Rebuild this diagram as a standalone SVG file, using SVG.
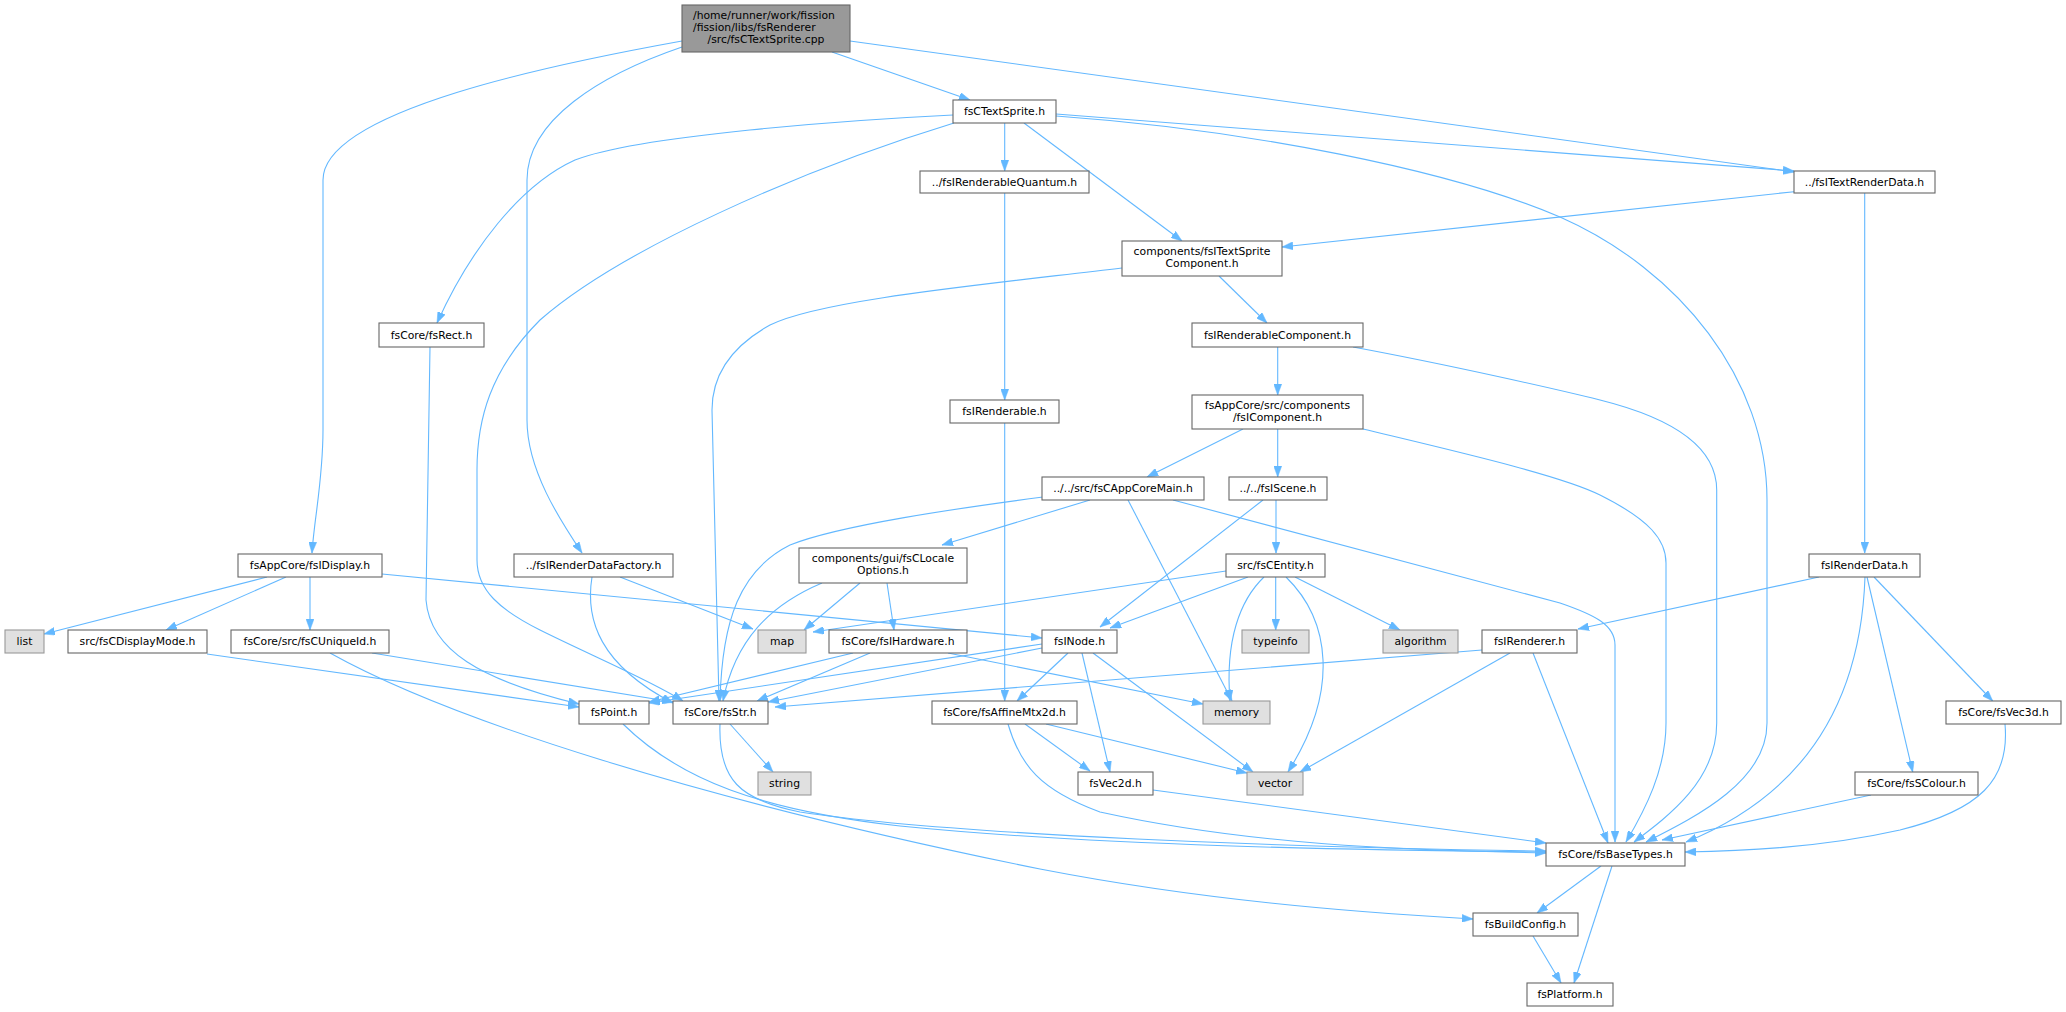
<svg xmlns="http://www.w3.org/2000/svg" width="2066" height="1012" viewBox="0 0 2066 1012">
<style>
text{font-family:"DejaVu Sans",sans-serif;font-size:10.8px;text-anchor:middle;fill:#000}
.n rect{fill:#fff;stroke:#666;stroke-width:1.1}
.x rect{fill:#e0e0e0;stroke:#999;stroke-width:1.1}
.r rect{fill:#999;stroke:#666;stroke-width:1.1}
#edges path{fill:none;stroke:#63b8ff;stroke-width:1.1;marker-end:url(#ah)}
</style>
<defs>
<marker id="ah" markerUnits="userSpaceOnUse" viewBox="0 0 11 8" markerWidth="11" markerHeight="8" refX="11" refY="4" orient="auto">
<path d="M0,0 L11,4 L0,8 z" fill="#63b8ff" stroke="#63b8ff" stroke-width="0.5"/>
</marker>
</defs>
<rect width="2066" height="1012" fill="#fff"/>
<g id="edges">
<path d="M832,52 L970,100"/>
<path d="M850,41 L1794,172"/>
<path d="M682,41 C560,63 323,110 323,180 L323,430 C323,480 314,520 312,553"/>
<path d="M682,47 C600,75 527,120 527,180 L527,420 C527,470 560,520 582,553"/>
<path d="M1004.7,123 L1004.7,171"/>
<path d="M953,115 C850,120 640,135 575,160 C520,185 470,250 437,323"/>
<path d="M954,123 C800,170 620,250 540,320 C490,370 477,420 477,470 L477,560 C477,590 500,610 540,630 C590,655 650,680 683,701"/>
<path d="M1024,123 L1182,241"/>
<path d="M1056,114 L1794,171"/>
<path d="M1056,116 C1250,130 1450,170 1560,217 C1680,270 1767,380 1767,500 L1767,723 C1767,780 1700,815 1646,842"/>
<path d="M1794,191.7 L1282,247"/>
<path d="M1864.7,193 L1864.7,553"/>
<path d="M1122,268 C980,285 820,300 770,325 C725,350 712,380 712,410 L719,701"/>
<path d="M1004.7,193 L1004.7,400"/>
<path d="M1004.7,423 L1004.7,701"/>
<path d="M1219,276 L1267,323"/>
<path d="M1277.7,347 L1277.7,395"/>
<path d="M1353,347 C1450,365 1560,390 1600,400 C1680,420 1716.7,450 1716.7,490 L1716.7,723 C1716.7,780 1670,815 1634,842"/>
<path d="M1243,429 L1147,477"/>
<path d="M1277.7,429 L1277.7,477"/>
<path d="M1363,429 C1450,450 1560,475 1600,495 C1650,520 1666,540 1666,563 L1666,723 C1666,770 1645,810 1626,842"/>
<path d="M1090,500 L942,545"/>
<path d="M1043,497 C960,508 840,525 790,545 C740,570 722,620 720,701"/>
<path d="M1128,500 L1232,701"/>
<path d="M1173,500 L1560,603 C1595,615 1615,625 1615,645 L1615,842"/>
<path d="M1263,500 L1100,627"/>
<path d="M1276,500 L1276,553"/>
<path d="M1226,571 L813,632"/>
<path d="M1248,577 L1110,628"/>
<path d="M1264,577 C1240,600 1225,640 1230,701"/>
<path d="M1275.7,577 L1275.7,630"/>
<path d="M1286,577 C1330,620 1340,690 1288,772"/>
<path d="M1295,577 L1400,630"/>
<path d="M1819,577 L1578,629"/>
<path d="M1867,577 L1912.7,772"/>
<path d="M1874,577 L1992.7,701"/>
<path d="M1865,577 C1860,720 1790,800 1686,842"/>
<path d="M1871,795 L1662,840"/>
<path d="M2005,724 C2010,780 1980,810 1900,830 C1820,848 1740,851 1685,852"/>
<path d="M1510,653 L1300,772"/>
<path d="M1533,653 L1608,843"/>
<path d="M1482,650 L775,707"/>
<path d="M1082,653 L1110,772"/>
<path d="M1093,653 L1253,772"/>
<path d="M1068,653 L1017,701"/>
<path d="M1042,648 L768,702"/>
<path d="M1042,644 L649,703"/>
<path d="M382,574 L1042,638"/>
<path d="M267,577 L44,634"/>
<path d="M286,577 L166,630"/>
<path d="M310,577 L310,630"/>
<path d="M207,654 L579,707"/>
<path d="M430,347 L426,600 C430,650 480,680 579,704"/>
<path d="M372,653 L673,702"/>
<path d="M330,653 C450,720 700,800 1040,869 C1200,900 1350,912 1473,919"/>
<path d="M620,577 L753,629"/>
<path d="M592,577 C585,620 600,665 673,703"/>
<path d="M860,583 L804,630"/>
<path d="M887,583 L894,630"/>
<path d="M822,583 C770,605 735,640 723,701"/>
<path d="M853,653 L649,702"/>
<path d="M870,653 L757,701"/>
<path d="M948,653 L1203,704"/>
<path d="M623,724 C680,780 760,810 900,826 C1100,846 1350,850 1546,852"/>
<path d="M720,724 C718,780 740,800 800,812 C950,835 1300,848 1546,851"/>
<path d="M730,724 L773,772"/>
<path d="M1025,724 L1090,771"/>
<path d="M1046,724 L1247,773"/>
<path d="M1008,724 C1020,765 1040,790 1100,812 C1250,845 1400,850 1546,853"/>
<path d="M1153,790 L1546,843"/>
<path d="M1601,866 L1537,913"/>
<path d="M1612,866 L1574,983"/>
<path d="M1533,936 L1561,983"/>
</g>
<g id="n0" class="r"><rect x="682" y="5" width="168" height="47"/><text x="693" y="18.5" style="text-anchor:start">/home/runner/work/fission</text><text x="693" y="30.5" style="text-anchor:start">/fission/libs/fsRenderer</text><text x="766" y="42.5">/src/fsCTextSprite.cpp</text></g>
<g id="n1" class="n"><rect x="953" y="100" width="103" height="23"/><text x="1004.5" y="115.3">fsCTextSprite.h</text></g>
<g id="n2" class="n"><rect x="920" y="171" width="169" height="22"/><text x="1004.5" y="185.8">../fsIRenderableQuantum.h</text></g>
<g id="n3" class="n"><rect x="379" y="323" width="105" height="24"/><text x="431.5" y="338.8">fsCore/fsRect.h</text></g>
<g id="n4" class="n"><rect x="950" y="400" width="109" height="23"/><text x="1004.5" y="415.3">fsIRenderable.h</text></g>
<g id="n5" class="n"><rect x="1794" y="171" width="141" height="22"/><text x="1864.5" y="185.8">../fsITextRenderData.h</text></g>
<g id="n6" class="n"><rect x="1122" y="241" width="160" height="35"/><text x="1202" y="254.8">components/fsITextSprite</text><text x="1202" y="266.8">Component.h</text></g>
<g id="n7" class="n"><rect x="1192" y="323" width="171" height="24"/><text x="1277.5" y="338.8">fsIRenderableComponent.h</text></g>
<g id="n8" class="n"><rect x="1192" y="395" width="171" height="34"/><text x="1277.5" y="408.5">fsAppCore/src/components</text><text x="1277.5" y="420.5">/fsIComponent.h</text></g>
<g id="n9" class="n"><rect x="1042" y="477" width="162" height="23"/><text x="1123" y="492.3">../../src/fsCAppCoreMain.h</text></g>
<g id="n10" class="n"><rect x="1229" y="477" width="98" height="23"/><text x="1278" y="492.3">../../fsIScene.h</text></g>
<g id="n11" class="n"><rect x="238" y="554" width="144" height="23"/><text x="310" y="569.3">fsAppCore/fsIDisplay.h</text></g>
<g id="n12" class="n"><rect x="514" y="554" width="159" height="23"/><text x="593.5" y="569.3">../fsIRenderDataFactory.h</text></g>
<g id="n13" class="n"><rect x="799" y="548" width="168" height="35"/><text x="883" y="561.5">components/gui/fsCLocale</text><text x="883" y="573.5">Options.h</text></g>
<g id="n14" class="n"><rect x="1226" y="554" width="99" height="23"/><text x="1275.5" y="569.3">src/fsCEntity.h</text></g>
<g id="n15" class="n"><rect x="1809" y="554" width="111" height="23"/><text x="1864.5" y="569.3">fsIRenderData.h</text></g>
<g id="n16" class="x"><rect x="5" y="630" width="39" height="23"/><text x="24.5" y="645.3">list</text></g>
<g id="n17" class="n"><rect x="68" y="630" width="139" height="23"/><text x="137.5" y="645.3">src/fsCDisplayMode.h</text></g>
<g id="n18" class="n"><rect x="231" y="630" width="158" height="23"/><text x="310" y="645.3">fsCore/src/fsCUniqueId.h</text></g>
<g id="n19" class="x"><rect x="758" y="630" width="48" height="23"/><text x="782" y="645.3">map</text></g>
<g id="n20" class="n"><rect x="829" y="630" width="138" height="23"/><text x="898" y="645.3">fsCore/fsIHardware.h</text></g>
<g id="n21" class="n"><rect x="1042" y="630" width="75" height="23"/><text x="1079.5" y="645.3">fsINode.h</text></g>
<g id="n22" class="x"><rect x="1242" y="630" width="67" height="23"/><text x="1275.5" y="645.3">typeinfo</text></g>
<g id="n23" class="x"><rect x="1383" y="630" width="75" height="23"/><text x="1420.5" y="645.3">algorithm</text></g>
<g id="n24" class="n"><rect x="1482" y="630" width="95" height="23"/><text x="1529.5" y="645.3">fsIRenderer.h</text></g>
<g id="n25" class="n"><rect x="579" y="701" width="70" height="23"/><text x="614" y="716.3">fsPoint.h</text></g>
<g id="n26" class="n"><rect x="673" y="701" width="95" height="23"/><text x="720.5" y="716.3">fsCore/fsStr.h</text></g>
<g id="n27" class="n"><rect x="932" y="701" width="145" height="23"/><text x="1004.5" y="716.3">fsCore/fsAffineMtx2d.h</text></g>
<g id="n28" class="x"><rect x="1203" y="701" width="67" height="23"/><text x="1236.5" y="716.3">memory</text></g>
<g id="n29" class="n"><rect x="1946" y="701" width="115" height="23"/><text x="2003.5" y="716.3">fsCore/fsVec3d.h</text></g>
<g id="n30" class="x"><rect x="758" y="772" width="53" height="23"/><text x="784.5" y="787.3">string</text></g>
<g id="n31" class="n"><rect x="1078" y="772" width="75" height="23"/><text x="1115.5" y="787.3">fsVec2d.h</text></g>
<g id="n32" class="x"><rect x="1247" y="772" width="56" height="23"/><text x="1275" y="787.3">vector</text></g>
<g id="n33" class="n"><rect x="1855" y="772" width="123" height="23"/><text x="1916.5" y="787.3">fsCore/fsSColour.h</text></g>
<g id="n34" class="n"><rect x="1546" y="843" width="139" height="23"/><text x="1615.5" y="858.3">fsCore/fsBaseTypes.h</text></g>
<g id="n35" class="n"><rect x="1473" y="913" width="105" height="23"/><text x="1525.5" y="928.3">fsBuildConfig.h</text></g>
<g id="n36" class="n"><rect x="1527" y="983" width="86" height="23"/><text x="1570" y="998.3">fsPlatform.h</text></g>
</svg>
